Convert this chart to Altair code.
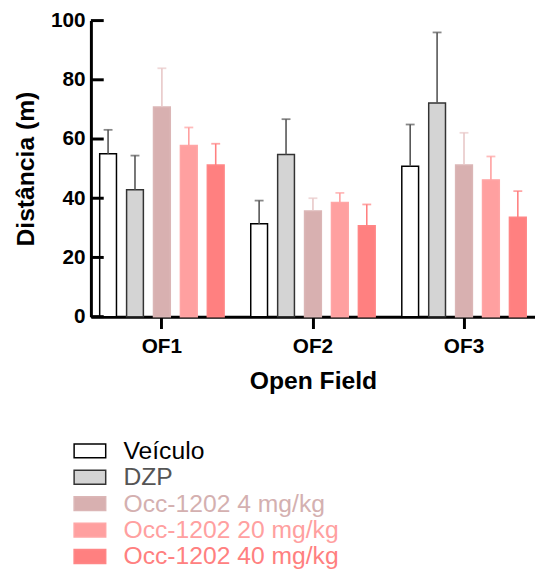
import altair as alt
import pandas as pd

# ---- data ----
tests = ["OF1", "OF2", "OF3"]
groups = ["Veículo", "DZP", "Occ-1202 4 mg/kg", "Occ-1202 20 mg/kg", "Occ-1202 40 mg/kg"]

veiculo = [55.0, 31.4, 50.8]
dzp = [42.9, 54.8, 72.2]
occ4 = [70.8, 35.7, 51.2]
occ20 = [57.8, 38.6, 46.2]
occ40 = [51.2, 30.7, 33.6]

veiculo_err = [8.1, 7.8, 14.1]
dzp_err = [11.5, 11.9, 23.8]
occ4_err = [13.1, 4.3, 10.9]
occ20_err = [6.1, 3.2, 7.9]
occ40_err = [7.2, 7.2, 8.8]

y_ticks = [0, 20, 40, 60, 80, 100]

# ---- styles ----
fill_colors = ["#ffffff", "#d4d4d4", "#d8b0b0", "#ffa0a0", "#ff8080"]
stroke_colors = ["#000000", "#333333", "#dbb6b6", "#ffa6a6", "#ff8686"]
err_colors = ["#555555", "#555555", "#e8c8c8", "#ff9f9f", "#ff8080"]
text_colors = ["#000000", "#555555", "#d4b0b0", "#ffa0a0", "#ff8080"]

FONT = "Liberation Sans"

means = [veiculo, dzp, occ4, occ20, occ40]
errs = [veiculo_err, dzp_err, occ4_err, occ20_err, occ40_err]
rows = []
for g, m, e in zip(groups, means, errs):
    for t, mv, ev in zip(tests, m, e):
        rows.append({"test": t, "group": g, "mean": mv, "upper": mv + ev})
df = pd.DataFrame(rows)

x_enc = alt.X(
    "test:N",
    sort=tests,
    scale=alt.Scale(domain=tests, paddingInner=0.12, paddingOuter=0.03),
    axis=alt.Axis(
        title="Open Field",
        labelAngle=0,
        labelFont=FONT,
        labelFontSize=21,
        labelFontWeight="bold",
        labelColor="black",
        labelPadding=7,
        titleFont=FONT,
        titleFontSize=25,
        titleFontWeight="bold",
        titleColor="black",
        titlePadding=13,
        domainColor="black",
        domainWidth=3,
        tickColor="black",
        tickWidth=3,
        tickSize=12,
    ),
)
xoff = alt.XOffset(
    "group:N",
    sort=groups,
    scale=alt.Scale(domain=groups, paddingInner=0.376, paddingOuter=0.158),
)
y_scale = alt.Scale(domain=[0, 100], nice=False)

base = alt.Chart(df).encode(x=x_enc, xOffset=xoff)

bars = base.mark_bar(strokeWidth=1.5).encode(
    y=alt.Y(
        "mean:Q",
        scale=y_scale,
        axis=alt.Axis(
            title="Distância (m)",
            values=y_ticks,
            grid=False,
            labelFont=FONT,
            labelFontSize=21,
            labelFontWeight="bold",
            labelColor="black",
            labelPadding=6,
            tickSize=0,
            domainColor="black",
            domainWidth=3,
            titleFont=FONT,
            titleFontSize=25,
            titleFontWeight="bold",
            titleColor="black",
            titlePadding=12,
        ),
    ),
    fill=alt.Fill("group:N", scale=alt.Scale(domain=groups, range=fill_colors), legend=None),
    stroke=alt.Stroke("group:N", scale=alt.Scale(domain=groups, range=stroke_colors), legend=None),
)

err_rule = base.mark_rule(strokeWidth=1.6).encode(
    y=alt.Y("mean:Q", scale=y_scale),
    y2="upper:Q",
    color=alt.Color("group:N", scale=alt.Scale(domain=groups, range=err_colors), legend=None),
)
err_cap = base.mark_tick(size=9, thickness=1.8).encode(
    y=alt.Y("upper:Q", scale=y_scale),
    color=alt.Color("group:N", scale=alt.Scale(domain=groups, range=err_colors), legend=None),
)

ytick_rules = alt.Chart(pd.DataFrame({"t": y_ticks})).mark_rule(
    color="black", strokeWidth=3
).encode(
    y=alt.Y("t:Q", scale=y_scale),
    x=alt.value(0),
    x2=alt.value(13),
)

main = alt.layer(bars, err_rule, err_cap, ytick_rules).properties(width=450, height=300)

# ---- legend ----
leg_df = pd.DataFrame({"group": groups, "idx": list(range(len(groups)))})
leg_base = alt.Chart(leg_df).encode(
    y=alt.Y("idx:Q", scale=alt.Scale(domain=[0, 4], reverse=True, nice=False), axis=None)
)
leg_sym = leg_base.mark_point(
    shape="M-1,-0.44H1V0.44H-1Z", size=1024, filled=True, strokeWidth=1.5, opacity=1
).encode(
    x=alt.value(-1),
    fill=alt.Fill("group:N", scale=alt.Scale(domain=groups, range=fill_colors), legend=None),
    stroke=alt.Stroke("group:N", scale=alt.Scale(domain=groups, range=stroke_colors), legend=None),
)
leg_txt = leg_base.mark_text(
    align="left", baseline="middle", font=FONT, fontSize=25
).encode(
    x=alt.value(33),
    text="group:N",
    color=alt.Color("group:N", scale=alt.Scale(domain=groups, range=text_colors), legend=None),
)
legend = alt.layer(leg_sym, leg_txt).properties(width=450, height=107).resolve_scale(
    fill="independent", stroke="independent", color="independent"
)

chart = alt.vconcat(main, legend, spacing=46).properties(
    padding={"left": 5, "top": -2, "right": 0, "bottom": 0}
).resolve_scale(
    fill="independent", stroke="independent", color="independent"
).configure_view(stroke=None)

chart.save("out.html", embed_options={"renderer": "svg", "actions": False})
